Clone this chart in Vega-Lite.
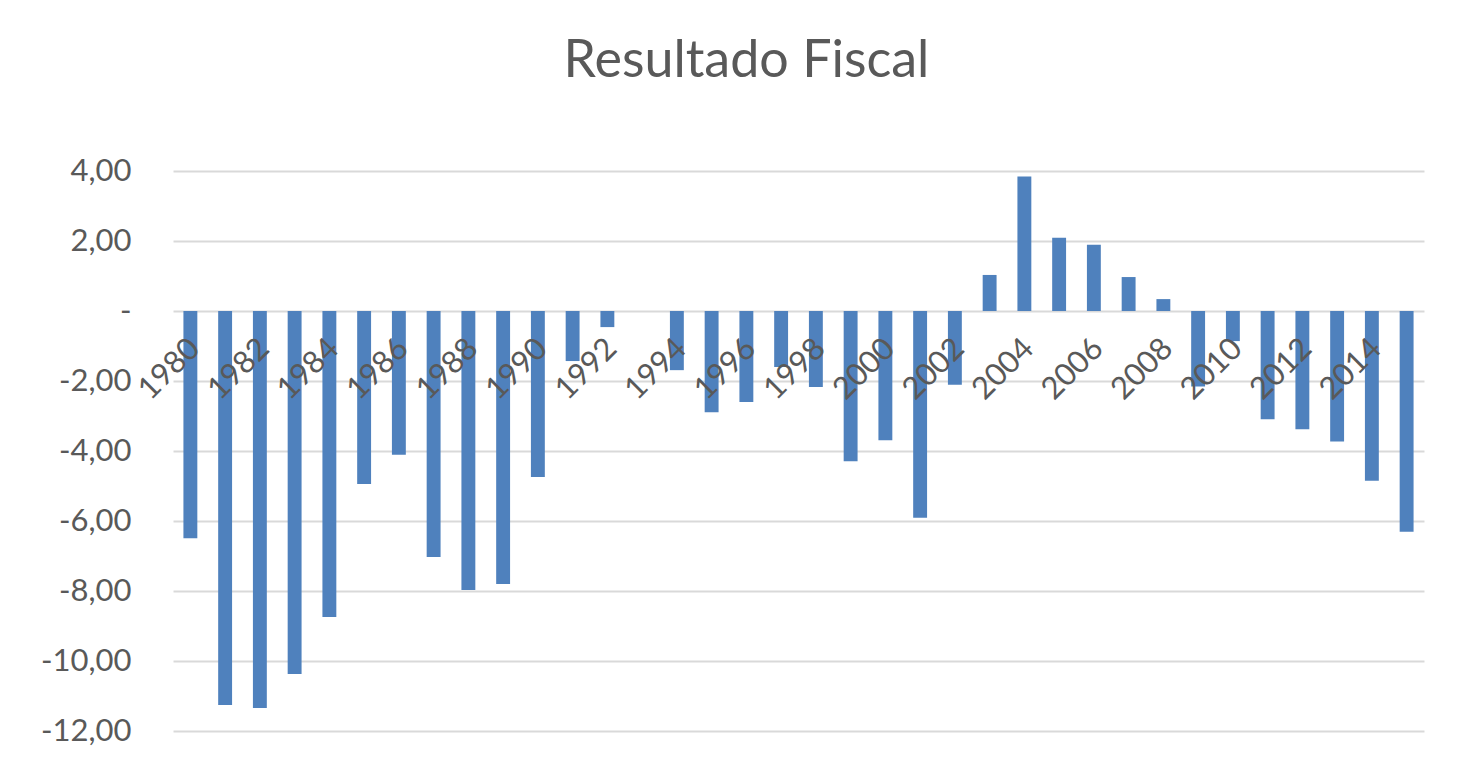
{
  "$schema": "https://vega.github.io/schema/vega-lite/v6.json",
  "width": 1251,
  "height": 560,
  "autosize": {"type": "none"},
  "padding": {"left": 173, "top": 171, "right": 33, "bottom": 33},
  "background": "white",
  "title": {
    "text": "Resultado Fiscal",
    "font": "Lato",
    "fontSize": 52,
    "fontWeight": "normal",
    "color": "#595959",
    "anchor": "middle",
    "frame": "group",
    "dx": -52,
    "offset": 67
  },
  "data": {
    "values": [
      {"ano": "1980", "resultado": -6.49},
      {"ano": "1981", "resultado": -11.26},
      {"ano": "1982", "resultado": -11.34},
      {"ano": "1983", "resultado": -10.37},
      {"ano": "1984", "resultado": -8.74},
      {"ano": "1985", "resultado": -4.94},
      {"ano": "1986", "resultado": -4.11},
      {"ano": "1987", "resultado": -7.03},
      {"ano": "1988", "resultado": -7.97},
      {"ano": "1989", "resultado": -7.8},
      {"ano": "1990", "resultado": -4.74},
      {"ano": "1991", "resultado": -1.43},
      {"ano": "1992", "resultado": -0.46},
      {"ano": "1993", "resultado": 0},
      {"ano": "1994", "resultado": -1.69},
      {"ano": "1995", "resultado": -2.89},
      {"ano": "1996", "resultado": -2.6},
      {"ano": "1997", "resultado": -1.6},
      {"ano": "1998", "resultado": -2.17},
      {"ano": "1999", "resultado": -4.29},
      {"ano": "2000", "resultado": -3.69},
      {"ano": "2001", "resultado": -5.91},
      {"ano": "2002", "resultado": -2.11},
      {"ano": "2003", "resultado": 1.03},
      {"ano": "2004", "resultado": 3.84},
      {"ano": "2005", "resultado": 2.09},
      {"ano": "2006", "resultado": 1.89},
      {"ano": "2007", "resultado": 0.97},
      {"ano": "2008", "resultado": 0.34},
      {"ano": "2009", "resultado": -2.16},
      {"ano": "2010", "resultado": -0.86},
      {"ano": "2011", "resultado": -3.09},
      {"ano": "2012", "resultado": -3.38},
      {"ano": "2013", "resultado": -3.73},
      {"ano": "2014", "resultado": -4.85},
      {"ano": "2015", "resultado": -6.31}
    ]
  },
  "mark": {"type": "bar", "color": "#4f81bd"},
  "encoding": {
    "x": {
      "field": "ano",
      "type": "ordinal",
      "sort": null,
      "scale": {"paddingInner": 0.6, "paddingOuter": 0.3},
      "axis": {
        "title": null,
        "offset": -420,
        "zindex": 2,
        "domain": false,
        "ticks": false,
        "grid": false,
        "labelAngle": -45,
        "labelPadding": 22,
        "labelOffset": -6,
        "labelFont": "Lato",
        "labelFontSize": 31,
        "labelColor": "#595959",
        "values": ["1980","1982","1984","1986","1988","1990","1992","1994","1996","1998","2000","2002","2004","2006","2008","2010","2012","2014"]
      }
    },
    "y": {
      "field": "resultado",
      "type": "quantitative",
      "scale": {"domain": [-12, 4], "nice": false, "zero": false},
      "axis": {
        "title": null,
        "domain": false,
        "ticks": false,
        "values": [-12, -10, -8, -6, -4, -2, 0, 2, 4],
        "labelExpr": "datum.value == 0 ? '-' : replace(replace(format(datum.value, '.2f'), '.', ','), '\u2212', '-')",
        "labelFont": "Lato",
        "labelFontSize": 31,
        "labelColor": "#595959",
        "labelPadding": 42,
        "gridColor": "#d9d9d9",
        "gridWidth": 2
      }
    }
  },
  "config": {"view": {"stroke": null}}
}
